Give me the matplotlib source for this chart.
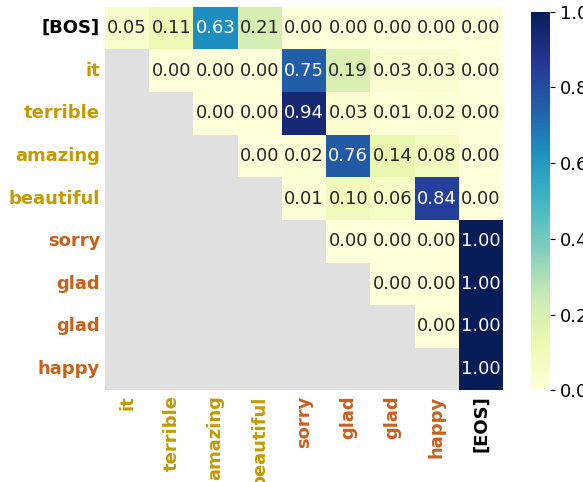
import numpy as np
import matplotlib
matplotlib.use('Agg')
import matplotlib.pyplot as plt
import seaborn as sns

row_labels = ['[BOS]', 'it', 'terrible', 'amazing', 'beautiful', 'sorry', 'glad', 'glad', 'happy']
col_labels = ['it', 'terrible', 'amazing', 'beautiful', 'sorry', 'glad', 'glad', 'happy', '[EOS]']
row_colors = ['black', '#c49a00', '#c49a00', '#c49a00', '#c49a00', '#c8601e', '#c8601e', '#c8601e', '#c8601e']
col_colors = ['#c49a00', '#c49a00', '#c49a00', '#c49a00', '#c8601e', '#c8601e', '#c8601e', '#c8601e', 'black']

nan = np.nan
attn = np.array([
    [0.05, 0.11, 0.63, 0.21, 0.00, 0.00, 0.00, 0.00, 0.00],
    [nan, 0.00, 0.00, 0.00, 0.75, 0.19, 0.03, 0.03, 0.00],
    [nan, nan, 0.00, 0.00, 0.94, 0.03, 0.01, 0.02, 0.00],
    [nan, nan, nan, 0.00, 0.02, 0.76, 0.14, 0.08, 0.00],
    [nan, nan, nan, nan, 0.01, 0.10, 0.06, 0.84, 0.00],
    [nan, nan, nan, nan, nan, 0.00, 0.00, 0.00, 1.00],
    [nan, nan, nan, nan, nan, nan, 0.00, 0.00, 1.00],
    [nan, nan, nan, nan, nan, nan, nan, 0.00, 1.00],
    [nan, nan, nan, nan, nan, nan, nan, nan, 1.00],
])

fig = plt.figure(figsize=(5.83, 4.82), dpi=100)
ax = fig.add_axes([0.18, 0.19, 0.683, 0.796])
cax = fig.add_axes([0.911, 0.19, 0.033, 0.786])
ax.set_facecolor('#e0e0e0')

sns.heatmap(attn, ax=ax, cbar_ax=cax, cmap='YlGnBu', vmin=0, vmax=1,
            annot=True, fmt='.2f', annot_kws={'fontsize': 13},
            mask=np.isnan(attn), xticklabels=col_labels, yticklabels=row_labels)

ax.tick_params(length=0)
ax.set_yticklabels(row_labels, rotation=0, fontsize=13, fontweight='bold')
ax.set_xticklabels(col_labels, rotation=90, fontsize=13, fontweight='bold')
for t, c in zip(ax.get_yticklabels(), row_colors):
    t.set_color(c)
for t, c in zip(ax.get_xticklabels(), col_colors):
    t.set_color(c)

cax.tick_params(labelsize=13)
cax.set_yticks([0, 0.2, 0.4, 0.6, 0.8, 1.0])

fig.savefig('out.png', dpi=100)
